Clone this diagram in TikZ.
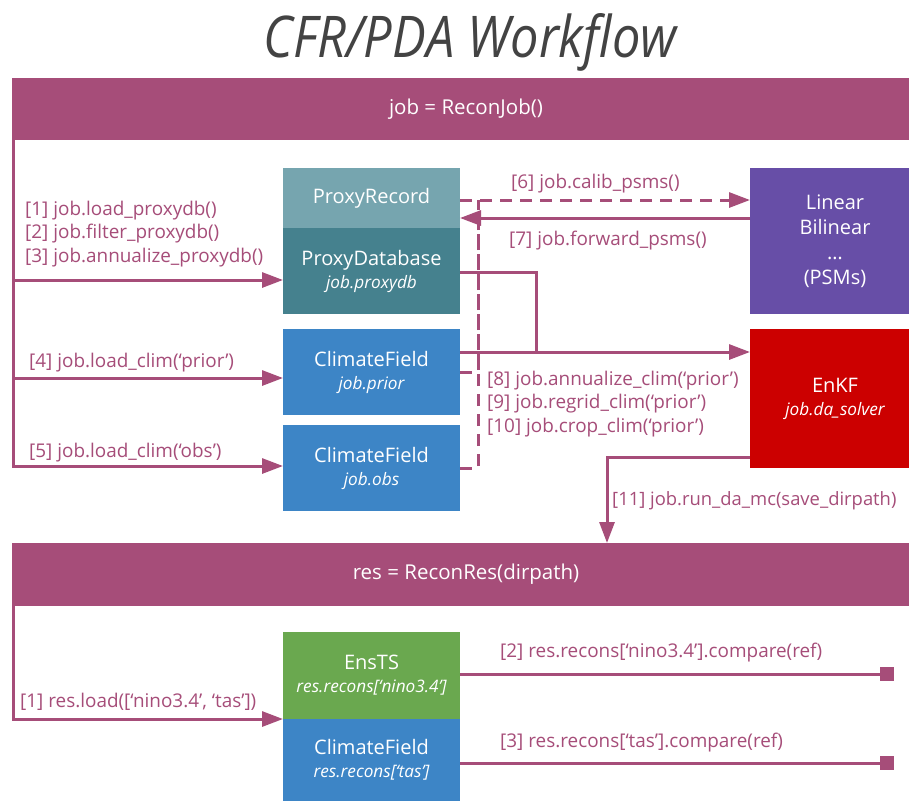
\documentclass[tikz,border=0pt]{standalone}
\usepackage{fontspec}
\usepackage{graphicx}
\setmainfont{Open Sans}
\usetikzlibrary{arrows.meta}
\definecolor{mag}{HTML}{A64D79}
\definecolor{cyanA}{HTML}{76A5AF}
\definecolor{cyanB}{HTML}{45818E}
\definecolor{blueA}{HTML}{3D85C6}
\definecolor{purpA}{HTML}{674EA7}
\definecolor{redA}{HTML}{CC0000}
\definecolor{greenA}{HTML}{6AA84F}
\definecolor{titleC}{HTML}{434343}
\tikzset{
  box/.style={inner sep=0pt, outer sep=0pt, text=white, align=center, anchor=north west,
    font=\fontsize{20}{23}\selectfont},
  band/.style={box, fill=mag, font=\fontsize{20.5}{23}\selectfont},
  lab/.style={text=mag, anchor=base west, inner sep=0pt, font=\fontsize{18.9}{22}\selectfont},
  con/.style={draw=mag, line width=3pt},
  arr/.style={con, -{Triangle[length=21pt,width=15pt]}},
  dcon/.style={con, dash pattern=on 12pt off 8pt},
  sqend/.style={con, -{Square[length=14pt,width=14pt]}},
}
\newcommand{\sub}[1]{{\fontsize{17.2}{23}\selectfont\itshape #1}}
\begin{document}
\begin{tikzpicture}[x=1pt,y=-1pt]
\useasboundingbox (0,0) rectangle (909,801);
\fill[white] (0,0) rectangle (909,801);
% title
\node[anchor=base, inner sep=0pt, text=titleC] (title) at (470,57)
  {\resizebox{413pt}{44pt}{\itshape CFR/PDA Workflow}};
% bands
\node[band, minimum width=908pt, minimum height=62pt] (job) at (12,78) {job = ReconJob()};
\node[band, minimum width=908pt, minimum height=63pt] (res) at (12,543) {res = ReconRes(dirpath)};
% boxes
\node[box, fill=cyanA, minimum width=177pt, minimum height=60pt] (pr) at (283,168) {ProxyRecord};
\node[box, fill=cyanB, minimum width=177pt, minimum height=86pt] (pdb) at (283,228) {ProxyDatabase\\\sub{job.proxydb}};
\node[box, fill=blueA, minimum width=177pt, minimum height=86pt] (prior) at (283,329) {ClimateField\\\sub{job.prior}};
\node[box, fill=blueA, minimum width=177pt, minimum height=86pt] (obs) at (283,425) {ClimateField\\\sub{job.obs}};
\node[box, fill=purpA, minimum width=170pt, minimum height=146pt, font=\fontsize{20}{25}\selectfont] (psm) at (750,168) {Linear\\Bilinear\\…\\(PSMs)};
\node[box, fill=redA, minimum width=170pt, minimum height=139pt] (enkf) at (750,329) {EnKF\\\sub{job.da\_solver}};
\node[box, fill=greenA, minimum width=177pt, minimum height=87pt] (ens) at (283,632) {EnsTS\\\sub{res.recons[‘nino3.4’]}};
\node[box, fill=blueA, minimum width=177pt, minimum height=82pt] (cf) at (283,719) {ClimateField\\\sub{res.recons[‘tas’]}};
% coordinates
\coordinate (k6) at (478,200);
\coordinate (k7) at (600,218);
\coordinate (k8) at (536,352);
\coordinate (k11) at (607,457);
\coordinate (e2) at (894,674);
\coordinate (e3) at (894,763);
% job connectors
\draw[arr] ([xshift=1.5pt]job.south west) |- ([yshift=-9pt]pdb.west);
\draw[arr] ([xshift=1.5pt]job.south west) |- ([yshift=-6pt]prior.west);
\draw[arr] ([xshift=1.5pt]job.south west) |- ([yshift=2pt]obs.west);
\draw[dcon, -{Triangle[length=21pt,width=15pt]}] (pr.east |- k6) -- (psm.west |- k6);
\draw[dcon] (prior.east) -| (k6);
\draw[dcon] (obs.east) -| (k6);
\draw[arr] (psm.west |- k7) -- (pr.east |- k7);
\draw[con] ([yshift=-1pt]pdb.east) -| (k8);
\draw[arr] (prior.east |- k8) -- (enkf.west |- k8);
\draw[arr] (enkf.west |- k11) -| (k11 |- res.north);
% res connectors
\draw[arr] ([xshift=1.5pt]res.south west) |- (ens.south west);
\draw[sqend] (ens.east |- e2) -- (e2);
\draw[sqend] (cf.east |- e3) -- (e3);
% labels
\node[lab] (l1) at (25,215) {[1] job.load\_proxydb()};
\node[lab] (l2) at (25,238) {[2] job.filter\_proxydb()};
\node[lab] (l3) at (25,262) {[3] job.annualize\_proxydb()};
\node[lab] (l4) at (29,367) {[4] job.load\_clim(‘prior’)};
\node[lab] (l5) at (29,457) {[5] job.load\_clim(‘obs’)};
\node[lab] (l6) at (511,188) {[6] job.calib\_psms()};
\node[lab] (l7) at (509,245) {[7] job.forward\_psms()};
\node[lab] (l8) at (487,385) {[8] job.annualize\_clim(‘prior’)};
\node[lab] (l9) at (487,408) {[9] job.regrid\_clim(‘prior’)};
\node[lab] (l10) at (487,432) {[10] job.crop\_clim(‘prior’)};
\node[lab, font=\fontsize{18.4}{22}\selectfont] (l11) at (612,505) {[11] job.run\_da\_mc(save\_dirpath)};
\node[lab] (r1) at (20,707) {[1] res.load([‘nino3.4’, ‘tas’])};
\node[lab] (r2) at (500,657) {[2] res.recons[‘nino3.4’].compare(ref)};
\node[lab] (r3) at (500,747) {[3] res.recons[‘tas’].compare(ref)};
\end{tikzpicture}
\end{document}
